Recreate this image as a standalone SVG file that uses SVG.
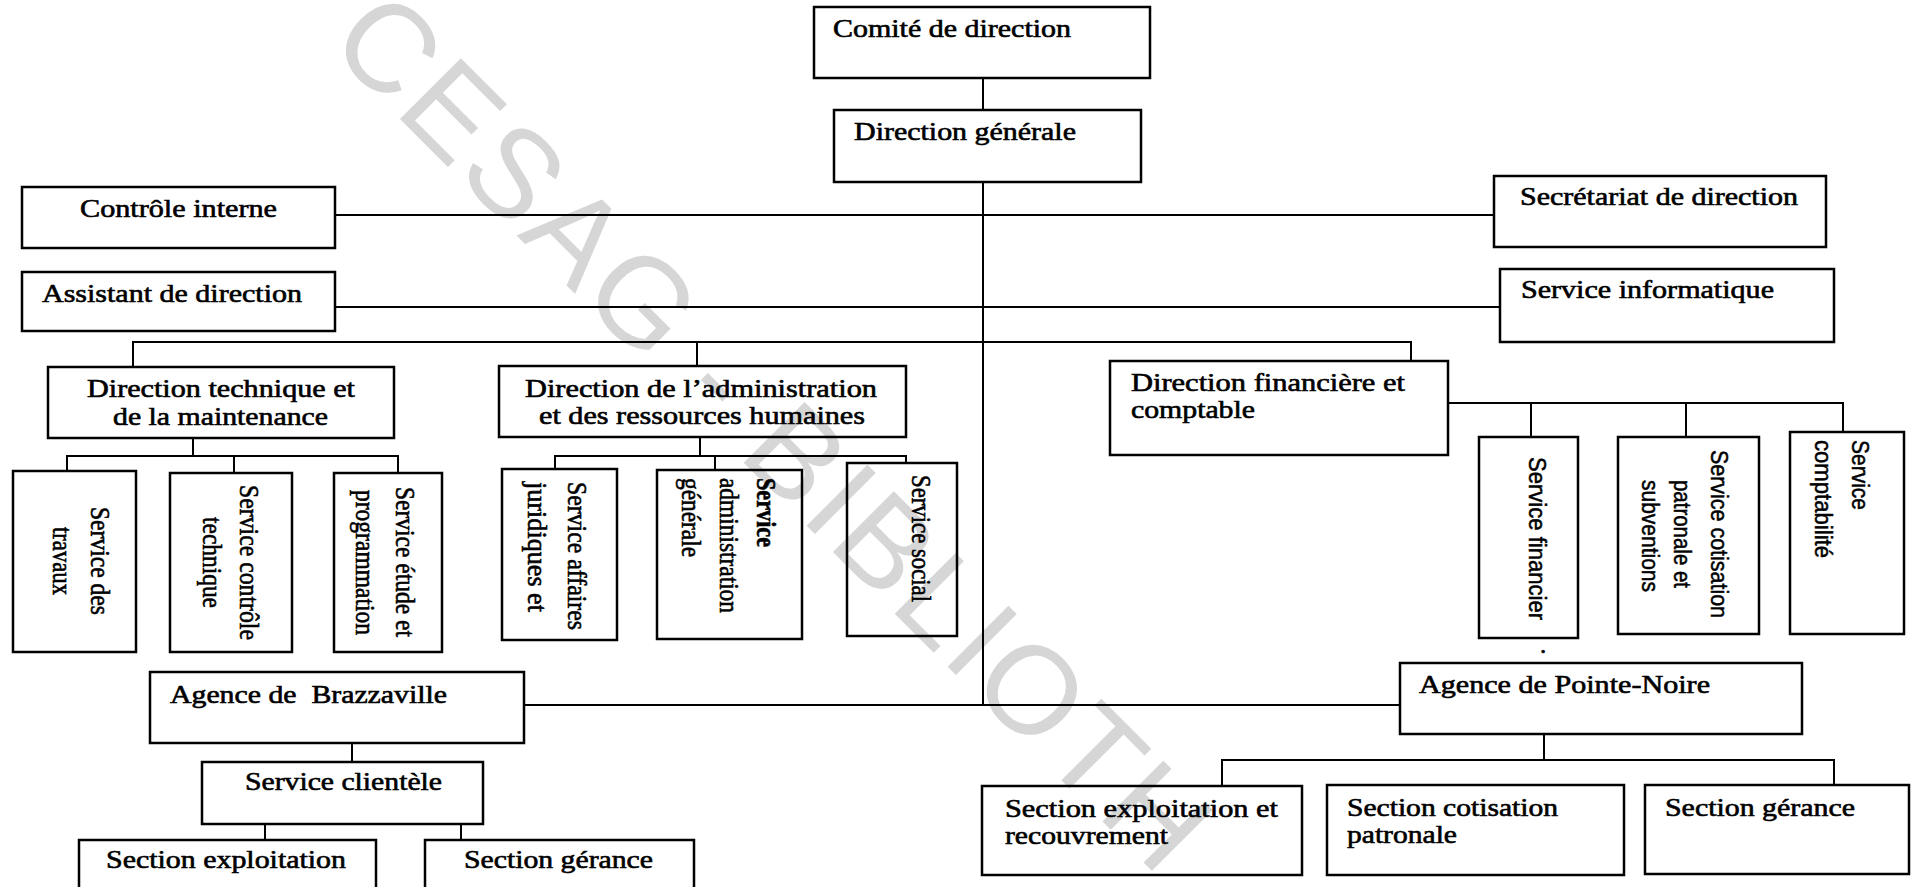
<svg xmlns="http://www.w3.org/2000/svg" width="1915" height="887" viewBox="0 0 1915 887">
<style>
  .box { fill: none; stroke: #000; stroke-width: 2.5; }
  .ln { fill: none; stroke: #000; stroke-width: 2; }
  .t { font-family: "Liberation Serif", "Times New Roman", serif; font-size: 25px; fill: #000; stroke: #000; stroke-width: 0.6; }
  .v { font-family: "Liberation Serif", "Times New Roman", serif; font-size: 27px; fill: #000; stroke: #000; stroke-width: 0.6; }
  .vs { font-family: "Liberation Sans", Arial, sans-serif; font-size: 23px; fill: #000; stroke: #000; stroke-width: 0.5; }
  .wm { font-family: "Liberation Sans", Arial, sans-serif; font-size: 125px; fill: #d6d6d6; letter-spacing: 4px; }
</style>
<rect width="1915" height="887" fill="#fff"/>
<text class="wm" transform="translate(326,45) rotate(45)">CESAG - BIBLIOTH</text>

<g id="connectors">
  <path class="ln" d="M983 78 V110 M983 182 V705"/>
  <path class="ln" d="M335 215 H1494 M335 307 H1500"/>
  <path class="ln" d="M133 367 V342 H1411 V361 M697 342 V366"/>
  <path class="ln" d="M193 438 V456 M67 471 V456 H398 V473 M234 456 V473"/>
  <path class="ln" d="M700 437 V456 M555 469 V456 H906 V463 M715 456 V470"/>
  <path class="ln" d="M1448 403 H1843 V432 M1531 403 V437 M1686 403 V437"/>
  <path class="ln" d="M524 705 H1400"/>
  <path class="ln" d="M352 743 V762 M265 824 V840 M461 824 V840"/>
  <path class="ln" d="M1544 734 V760 M1222 786 V760 H1834 V785"/>
</g>

<g id="comite"><rect class="box" x="814" y="7" width="336" height="71"/><text class="t" x="833" y="37" textLength="238" lengthAdjust="spacingAndGlyphs">Comité de direction</text></g>
<g id="direction-generale"><rect class="box" x="834" y="110" width="307" height="72"/><text class="t" x="854" y="140" textLength="222" lengthAdjust="spacingAndGlyphs">Direction générale</text></g>
<g id="controle-interne"><rect class="box" x="22" y="187" width="313" height="61"/><text class="t" x="80" y="217" textLength="197" lengthAdjust="spacingAndGlyphs">Contrôle interne</text></g>
<g id="secretariat"><rect class="box" x="1494" y="176" width="332" height="71"/><text class="t" x="1520" y="205" textLength="278" lengthAdjust="spacingAndGlyphs">Secrétariat de direction</text></g>
<g id="assistant"><rect class="box" x="22" y="272" width="313" height="59"/><text class="t" x="42" y="302" textLength="260" lengthAdjust="spacingAndGlyphs">Assistant de direction</text></g>
<g id="informatique"><rect class="box" x="1500" y="269" width="334" height="73"/><text class="t" x="1521" y="298" textLength="253" lengthAdjust="spacingAndGlyphs">Service informatique</text></g>

<g id="direction-technique"><rect class="box" x="48" y="367" width="346" height="71"/>
  <text class="t" x="87" y="397" textLength="268" lengthAdjust="spacingAndGlyphs">Direction technique et</text>
  <text class="t" x="113" y="425" textLength="215" lengthAdjust="spacingAndGlyphs">de la maintenance</text></g>
<g id="direction-administration"><rect class="box" x="499" y="366" width="407" height="71"/>
  <text class="t" x="525" y="397" textLength="352" lengthAdjust="spacingAndGlyphs">Direction de l’administration</text>
  <text class="t" x="539" y="424" textLength="326" lengthAdjust="spacingAndGlyphs">et des ressources humaines</text></g>
<g id="direction-financiere"><rect class="box" x="1110" y="361" width="338" height="94"/>
  <text class="t" x="1131" y="391" textLength="274" lengthAdjust="spacingAndGlyphs">Direction financière et</text>
  <text class="t" x="1131" y="418" textLength="124" lengthAdjust="spacingAndGlyphs">comptable</text></g>

<g id="service-travaux"><rect class="box" x="13" y="471" width="123" height="181"/>
  <text class="v" transform="translate(91,507) rotate(90)" textLength="108" lengthAdjust="spacingAndGlyphs">Service des</text>
  <text class="v" transform="translate(53,527) rotate(90)" textLength="68" lengthAdjust="spacingAndGlyphs">travaux</text></g>
<g id="service-controle-technique"><rect class="box" x="170" y="473" width="122" height="179"/>
  <text class="v" transform="translate(240,485) rotate(90)" textLength="155" lengthAdjust="spacingAndGlyphs">Service contrôle</text>
  <text class="v" transform="translate(203,517) rotate(90)" textLength="91" lengthAdjust="spacingAndGlyphs">technique</text></g>
<g id="service-etude"><rect class="box" x="334" y="473" width="108" height="179"/>
  <text class="v" transform="translate(396,487) rotate(90)" textLength="150" lengthAdjust="spacingAndGlyphs">Service étude et</text>
  <text class="v" transform="translate(356,490) rotate(90)" textLength="145" lengthAdjust="spacingAndGlyphs">programmation</text></g>
<g id="service-juridiques"><rect class="box" x="502" y="469" width="115" height="171"/>
  <text class="v" transform="translate(568,482) rotate(90)" textLength="148" lengthAdjust="spacingAndGlyphs">Service affaires</text>
  <text class="v" transform="translate(528,482) rotate(90)" textLength="130" lengthAdjust="spacingAndGlyphs">juridiques et</text></g>
<g id="service-administration"><rect class="box" x="657" y="470" width="145" height="169"/>
  <text class="v" transform="translate(757,478) rotate(90)" textLength="69" lengthAdjust="spacingAndGlyphs" font-weight="bold">Service</text>
  <text class="v" transform="translate(720,478) rotate(90)" textLength="135" lengthAdjust="spacingAndGlyphs">administration</text>
  <text class="v" transform="translate(682,478) rotate(90)" textLength="79" lengthAdjust="spacingAndGlyphs">générale</text></g>
<g id="service-social"><rect class="box" x="847" y="463" width="110" height="173"/>
  <text class="v" transform="translate(912,475) rotate(90)" textLength="127" lengthAdjust="spacingAndGlyphs">Service social</text></g>

<g id="service-financier"><rect class="box" x="1479" y="437" width="99" height="201"/>
  <text class="vs" transform="translate(1529,457) rotate(90)" textLength="163" lengthAdjust="spacingAndGlyphs">Service financier</text></g>
<text class="t" x="1540" y="653">.</text>
<g id="service-cotisation"><rect class="box" x="1618" y="437" width="141" height="197"/>
  <text class="vs" transform="translate(1711,450) rotate(90)" textLength="168" lengthAdjust="spacingAndGlyphs">Service cotisation</text>
  <text class="vs" transform="translate(1674,480) rotate(90)" textLength="108" lengthAdjust="spacingAndGlyphs">patronale et</text>
  <text class="vs" transform="translate(1642,480) rotate(90)" textLength="112" lengthAdjust="spacingAndGlyphs">subventions</text></g>
<g id="service-comptabilite"><rect class="box" x="1790" y="432" width="114" height="202"/>
  <text class="vs" transform="translate(1852,440) rotate(90)" textLength="70" lengthAdjust="spacingAndGlyphs">Service</text>
  <text class="vs" transform="translate(1815,440) rotate(90)" textLength="118" lengthAdjust="spacingAndGlyphs">comptabilité</text></g>

<g id="agence-brazzaville"><rect class="box" x="150" y="672" width="374" height="71"/>
  <text class="t" x="170" y="703" textLength="277" lengthAdjust="spacingAndGlyphs" style="white-space:pre">Agence de  Brazzaville</text></g>
<g id="agence-pointe-noire"><rect class="box" x="1400" y="663" width="402" height="71"/>
  <text class="t" x="1419" y="693" textLength="291" lengthAdjust="spacingAndGlyphs">Agence de Pointe-Noire</text></g>
<g id="service-clientele"><rect class="box" x="202" y="762" width="281" height="62"/>
  <text class="t" x="245" y="790" textLength="197" lengthAdjust="spacingAndGlyphs">Service clientèle</text></g>
<g id="section-exploitation-bzv"><rect class="box" x="79" y="840" width="297" height="60"/>
  <text class="t" x="106" y="868" textLength="240" lengthAdjust="spacingAndGlyphs">Section exploitation</text></g>
<g id="section-gerance-bzv"><rect class="box" x="425" y="840" width="269" height="60"/>
  <text class="t" x="464" y="868" textLength="189" lengthAdjust="spacingAndGlyphs">Section gérance</text></g>
<g id="section-exploitation-pn"><rect class="box" x="982" y="786" width="320" height="89"/>
  <text class="t" x="1005" y="817" textLength="273" lengthAdjust="spacingAndGlyphs">Section exploitation et</text>
  <text class="t" x="1005" y="844" textLength="163" lengthAdjust="spacingAndGlyphs">recouvrement</text></g>
<g id="section-cotisation-pn"><rect class="box" x="1327" y="785" width="297" height="90"/>
  <text class="t" x="1347" y="816" textLength="211" lengthAdjust="spacingAndGlyphs">Section cotisation</text>
  <text class="t" x="1347" y="843" textLength="110" lengthAdjust="spacingAndGlyphs">patronale</text></g>
<g id="section-gerance-pn"><rect class="box" x="1645" y="785" width="264" height="89"/>
  <text class="t" x="1665" y="816" textLength="190" lengthAdjust="spacingAndGlyphs">Section gérance</text></g>
</svg>
